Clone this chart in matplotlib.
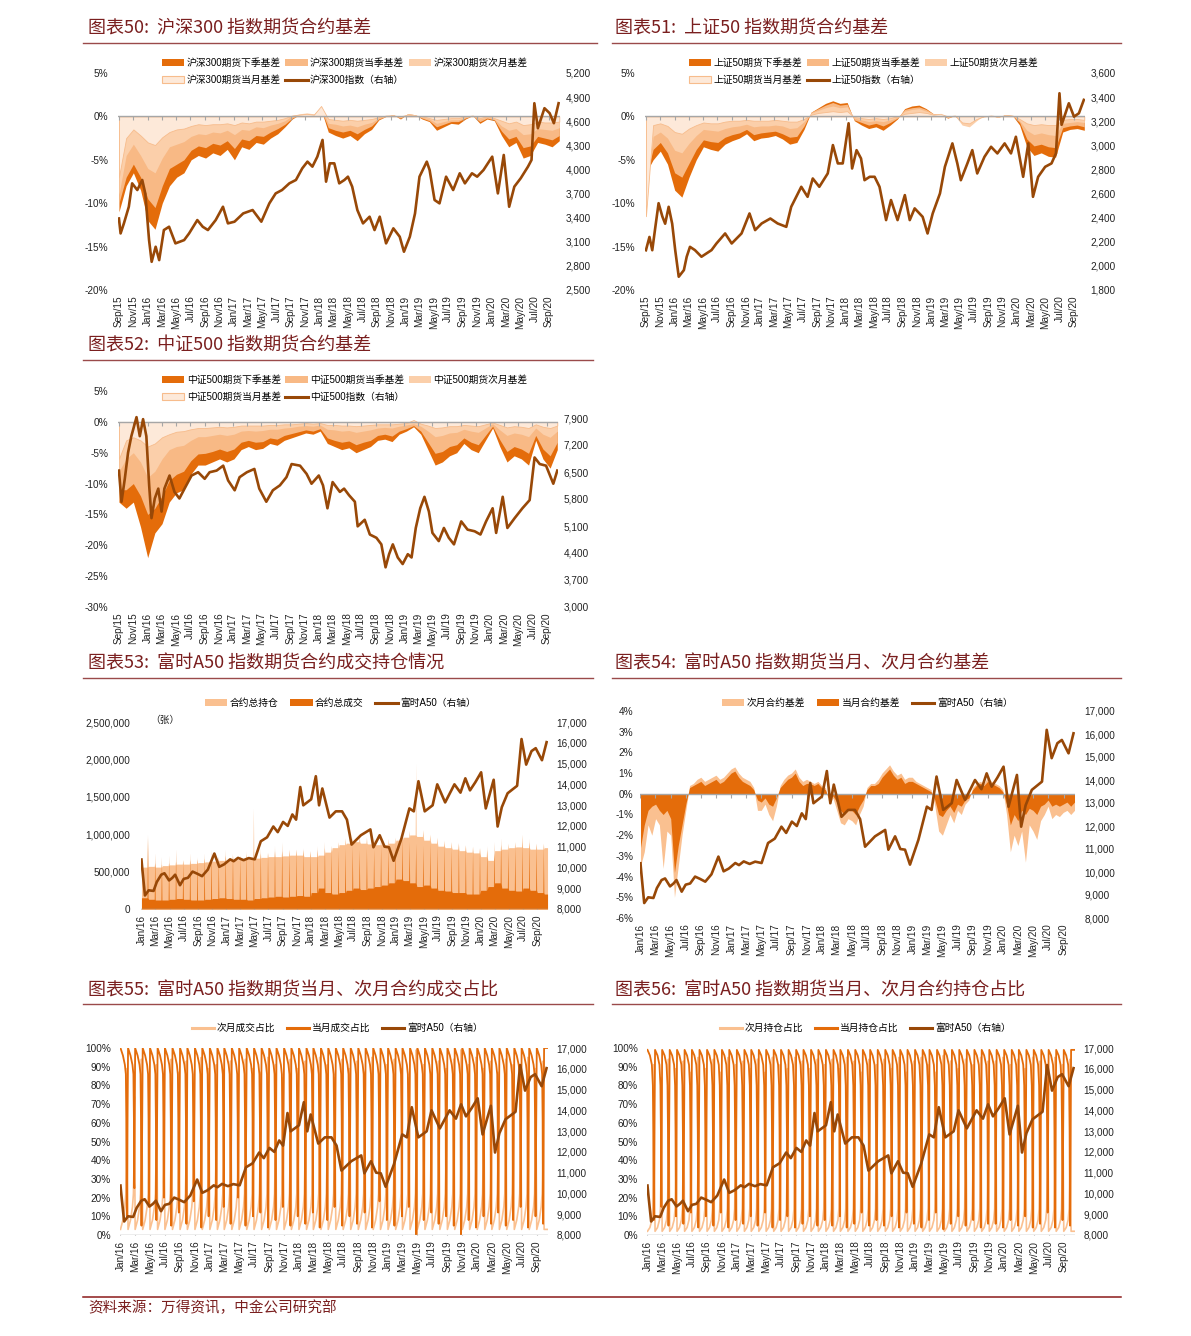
import numpy as np
import pandas as pd
import matplotlib
matplotlib.use('Agg')
import matplotlib.pyplot as plt
import matplotlib.dates as mdates
from matplotlib.patches import Patch
from matplotlib.lines import Line2D

plt.rcParams['font.family'] = ['Liberation Sans', 'Noto Sans CJK SC', 'DejaVu Sans']

# ---------------- DATA ----------------
hs300_dates = ['2015-09-01','2015-09-08','2015-09-22','2015-10-13','2015-10-27','2015-11-18','2015-12-09','2015-12-22',
 '2016-01-07','2016-01-18','2016-02-04','2016-02-19','2016-03-10','2016-04-01','2016-04-28','2016-06-04','2016-06-25',
 '2016-07-30','2016-08-22','2016-09-13','2016-10-16','2016-11-16','2016-12-07','2017-01-04','2017-02-10','2017-03-22',
 '2017-04-28','2017-06-01','2017-06-28','2017-07-25','2017-08-25','2017-09-22','2017-10-19','2017-11-10','2017-12-01',
 '2017-12-22','2018-01-13','2018-01-28','2018-02-13','2018-03-04','2018-03-25','2018-04-16','2018-05-01','2018-05-19',
 '2018-06-10','2018-07-04','2018-08-01','2018-08-22','2018-09-13','2018-10-10','2018-11-10','2018-12-07','2018-12-25',
 '2019-01-19','2019-02-10','2019-03-01','2019-04-01','2019-04-13','2019-05-04','2019-05-25','2019-06-22','2019-07-22',
 '2019-08-19','2019-09-10','2019-10-10','2019-11-01','2019-11-28','2020-01-04','2020-01-28','2020-02-22','2020-03-16',
 '2020-04-07','2020-05-04','2020-06-04','2020-06-19','2020-07-01','2020-07-16','2020-08-13','2020-09-04','2020-09-22',
 '2020-10-12']
hs300_vals = [3390,3204,3328,3536,3827,3744,3869,3700,3121,2851,3038,2872,3246,3287,3080,3121,3204,3370,3287,3246,3370,
 3536,3329,3350,3453,3495,3350,3578,3702,3744,3827,3869,4014,4097,4035,4159,4367,3848,4076,4076,3827,3869,3910,3786,
 3495,3329,3412,3246,3412,3080,3267,3163,2976,3163,3453,3910,4097,3993,3620,3578,3910,3744,3952,3827,3952,3910,3993,
 4159,3702,4180,3536,3786,3890,4035,4118,4824,4513,4762,4700,4575,4824]

sz50_dates = ['2015-09-01','2015-09-16','2015-09-28','2015-10-11','2015-10-25','2015-11-10','2015-11-22','2015-12-07',
 '2015-12-22','2016-01-04','2016-01-19','2016-02-10','2016-02-22','2016-03-07','2016-03-28','2016-04-25','2016-06-07',
 '2016-06-28','2016-08-04','2016-09-01','2016-10-13','2016-11-16','2016-12-10','2017-01-07','2017-02-13','2017-03-16',
 '2017-04-22','2017-05-13','2017-06-25','2017-07-22','2017-08-13','2017-09-10','2017-10-16','2017-11-07','2017-11-28',
 '2017-12-19','2018-01-13','2018-01-28','2018-02-16','2018-03-07','2018-03-22','2018-04-13','2018-05-04','2018-05-25',
 '2018-06-22','2018-07-13','2018-08-10','2018-09-10','2018-10-01','2018-10-22','2018-11-25','2018-12-16','2019-01-07',
 '2019-02-07','2019-02-28','2019-04-01','2019-04-22','2019-05-07','2019-06-04','2019-06-25','2019-07-16','2019-08-16',
 '2019-09-13','2019-10-10','2019-11-10','2019-12-07','2019-12-28','2020-01-28','2020-02-19','2020-03-10','2020-04-01',
 '2020-05-01','2020-05-28','2020-06-16','2020-07-01','2020-07-10','2020-08-10','2020-09-01','2020-09-22','2020-10-13']
sz50_vals = [2130,2240,2130,2320,2520,2410,2350,2490,2350,2130,1910,1965,2076,2158,2131,2076,2131,2186,2269,2186,2269,
 2435,2297,2352,2393,2352,2324,2490,2656,2573,2725,2656,2767,3002,2850,2850,3183,2808,2960,2891,2711,2739,2739,2656,
 2380,2546,2380,2587,2380,2477,2407,2269,2435,2601,2822,3016,2850,2711,2850,2960,2767,2905,2988,2933,3016,2933,3071,
 2739,3016,2573,2739,2822,2850,2933,3432,3170,3349,3238,3266,3377]

zz500_dates = ['2015-09-01','2015-09-12','2015-09-26','2015-10-10','2015-10-24','2015-11-15','2015-11-29','2015-12-13',
 '2015-12-27','2016-01-08','2016-01-18','2016-02-01','2016-02-16','2016-03-01','2016-03-13','2016-04-04','2016-04-25',
 '2016-05-16','2016-06-07','2016-07-07','2016-08-04','2016-09-01','2016-09-22','2016-10-22','2016-11-19','2016-12-10',
 '2017-01-07','2017-01-28','2017-02-28','2017-04-01','2017-04-22','2017-05-22','2017-06-19','2017-07-19','2017-08-16',
 '2017-09-07','2017-10-13','2017-11-10','2017-12-01','2018-01-01','2018-01-19','2018-02-07','2018-03-01','2018-04-01',
 '2018-04-19','2018-05-10','2018-06-04','2018-06-16','2018-07-16','2018-08-07','2018-09-04','2018-09-25','2018-10-13',
 '2018-10-28','2018-11-13','2018-12-04','2018-12-25','2019-01-16','2019-02-01','2019-02-19','2019-03-10','2019-03-28',
 '2019-04-16','2019-05-01','2019-05-28','2019-06-19','2019-07-10','2019-08-01','2019-09-01','2019-09-28','2019-10-28',
 '2019-11-22','2019-12-16','2020-01-13','2020-01-28','2020-02-25','2020-03-16','2020-04-16','2020-05-19','2020-06-19',
 '2020-07-10','2020-08-01','2020-08-28','2020-09-28','2020-10-15']
zz500_vals = [6537,5729,6323,7004,7429,7922,7429,7870,7429,6154,5304,5814,6069,5474,6069,6409,5984,5814,6069,6409,6494,
 6324,6494,6537,6664,6281,6026,6366,6494,6579,6069,5729,6026,6154,6366,6706,6664,6451,6196,6409,6154,5559,6239,5984,
 6069,5899,5729,5091,5261,4879,4794,4624,4029,4369,4624,4284,4114,4369,4284,5049,5559,5857,5474,4921,4709,5049,4794,
 4624,5219,5006,4964,4879,5219,5559,4921,5857,5049,5304,5559,5772,6877,6706,6664,6196,6537]

a50_dates = ['2016-01-01','2016-01-04','2016-01-16','2016-02-01','2016-02-22','2016-03-07','2016-03-26','2016-04-09',
 '2016-04-29','2016-05-13','2016-05-25','2016-06-15','2016-07-01','2016-07-19','2016-08-08','2016-08-28','2016-09-18',
 '2016-10-13','2016-11-10','2016-12-01','2016-12-22','2017-01-17','2017-02-01','2017-02-20','2017-03-16','2017-04-07',
 '2017-05-03','2017-05-29','2017-06-25','2017-07-22','2017-08-10','2017-09-02','2017-09-22','2017-10-12','2017-10-28',
 '2017-11-15','2017-11-28','2018-01-01','2018-01-21','2018-02-04','2018-02-18','2018-03-21','2018-04-17','2018-05-14',
 '2018-06-04','2018-06-24','2018-08-03','2018-09-13','2018-09-26','2018-10-23','2018-11-13','2018-12-02','2018-12-22',
 '2019-01-25','2019-02-28','2019-03-19','2019-04-08','2019-05-05','2019-06-08','2019-06-28','2019-08-01','2019-09-10',
 '2019-10-06','2019-10-27','2019-11-16','2019-12-09','2020-01-03','2020-01-23','2020-02-26','2020-03-14','2020-04-01',
 '2020-04-26','2020-06-06','2020-06-25','2020-07-15','2020-08-07','2020-08-25','2020-09-21','2020-10-11']
a50_vals = [10380,10000,8650,8900,8870,9300,9650,9720,9375,9500,9650,9145,9450,9500,9800,9700,9580,9900,10670,10030,
 10150,10390,10300,10460,10350,10450,10390,11260,11450,11970,11700,12190,12000,12550,12300,13870,12990,13280,14390,
 12990,13800,12400,12700,12700,12300,11100,11550,11830,10970,11550,11000,10970,10320,11400,12840,12700,14150,12700,
 12990,14000,13130,14000,13600,14290,13710,14100,14580,12840,14220,11970,12900,13570,13930,16180,14950,15600,15740,
 15160,16030]

# monthly basis (%), Sep 2015 - Oct 2020
hs_q2 = [-11,-8,-6.5,-8.5,-12,-13,-10,-8,-7,-6.5,-5,-4.5,-4.8,-4.2,-4.5,-3.8,-5,-3.5,-3.8,-3,-3.2,-2.5,-2,-1.2,-0.3,0.2,
 0.3,0.2,0.8,-1.8,-2.2,-2.5,-2.2,-2.8,-2,-1.5,-0.4,0,0.2,-0.3,0.3,0.2,-0.3,-0.6,-1.6,-1.2,-0.8,-0.9,-0.3,0.1,-0.8,-0.3,
 -0.5,-2.2,-3.5,-3,-4.8,-4.5,-3,-3.2,-3.5,-2.8]
hs_q1 = [-10,-7,-5.5,-7,-9.5,-10.5,-8,-6,-5.5,-5,-3.9,-3.4,-3.6,-3.1,-3.3,-2.8,-3.7,-2.6,-2.8,-2.2,-2.3,-1.8,-1.4,-0.9,
 -0.2,0.2,0.3,0.2,0.8,-1.3,-1.6,-1.8,-1.6,-2.0,-1.5,-1.1,-0.3,0,0.2,-0.2,0.3,0.2,-0.2,-0.5,-1.2,-0.9,-0.6,-0.6,-0.2,0.1,
 -0.6,-0.2,-0.4,-1.7,-2.6,-2.3,-3.6,-3.4,-2.3,-2.5,-2.7,-2.2]
hs_m2 = [-9,-4.5,-3.2,-4.5,-6,-6.5,-4.8,-3.5,-3.2,-2.9,-2.3,-2.0,-2.1,-1.8,-1.9,-1.6,-2.1,-1.5,-1.6,-1.2,-1.3,-1.0,
 -0.8,-0.5,0.1,0.3,0.4,0.3,1.0,-0.8,-0.9,-1.1,-1.0,-1.2,-0.9,-0.7,-0.2,0.1,0.2,-0.1,0.3,0.2,-0.1,-0.3,-0.8,-0.6,-0.4,
 -0.4,-0.1,0.1,-0.3,-0.1,-0.3,-1.1,-1.6,-1.4,-2.1,-2.0,-1.4,-1.5,-1.6,-1.3]
hs_m1 = [-7,-2.5,-1.5,-2.2,-3,-3.3,-2.4,-1.8,-1.5,-1.4,-1.1,-0.9,-1.0,-0.9,-0.9,-0.8,-1.0,-0.7,-0.8,-0.6,-0.6,-0.5,
 -0.4,-0.2,0.1,0.2,0.3,0.2,1.2,-0.3,-0.4,-0.5,-0.4,-0.5,-0.4,-0.3,-0.1,0.1,0.1,0,0.2,0.1,0,-0.2,-0.4,-0.3,-0.2,-0.2,0,
 0.1,-0.2,0,-0.2,-0.5,-0.8,-0.6,-1.0,-0.9,-0.6,-0.7,-0.7,-0.6]

sz_q2 = [-6.5,-5.0,-4.0,-5.5,-8.5,-9.3,-7.0,-5.0,-3.5,-3.8,-4.0,-3.2,-2.8,-2.5,-2.0,-2.8,-2.5,-2.4,-2.2,-2.6,-3.2,-3.0,
 -1.5,0.5,1.0,1.5,1.8,1.5,1.6,-0.5,-1.0,-1.4,-1.2,-1.6,-1.0,-0.3,0.9,1.2,1.3,0.9,0.3,0.2,-0.2,0.1,-0.5,-0.6,-0.4,0.1,
 0.1,-0.1,0.2,0.1,-1.0,-3.5,-4.5,-4.2,-4.6,-4.7,-1.8,-1.5,-1.4,-1.6]
sz_q1 = [-7,-3.8,-3.0,-4.2,-6.5,-7,-5.4,-3.8,-2.7,-2.9,-3.0,-2.4,-2.1,-1.9,-1.5,-2.1,-1.9,-1.8,-1.7,-2.0,-2.4,-2.3,
 -1.1,0.5,0.9,1.3,1.6,1.3,1.4,-0.4,-0.7,-1.0,-0.8,-1.1,-0.7,-0.2,0.8,1.0,1.1,0.8,0.3,0.2,-0.1,0.1,-0.5,-0.6,-0.3,0.1,
 0.1,-0.1,0.2,0.1,-0.7,-2.6,-3.4,-3.2,-3.5,-3.6,-1.3,-1.1,-1.0,-1.2]
sz_m2 = [-9,-2.3,-1.8,-2.5,-3.9,-4.2,-3.1,-2.2,-1.5,-1.6,-1.7,-1.4,-1.2,-1.1,-0.9,-1.2,-1.1,-1.1,-1.0,-1.1,-1.4,-1.3,
 -0.6,0.4,0.7,1.0,1.2,1.0,1.1,-0.2,-0.4,-0.6,-0.5,-0.6,-0.4,-0.1,0.6,0.8,0.9,0.6,0.3,0.2,-0.1,0.1,-1.0,-1.2,-0.5,0.1,
 0.1,-0.1,0.2,0.1,-0.5,-1.6,-2.1,-1.9,-2.1,-2.2,-0.8,-0.7,-0.6,-0.7]
sz_m1 = [-11.5,-1.0,-0.8,-1.1,-1.8,-2.0,-1.4,-1.0,-0.7,-0.8,-0.8,-0.6,-0.5,-0.5,-0.4,-0.5,-0.5,-0.5,-0.4,-0.5,-0.6,
 -0.6,-0.3,0.2,0.4,0.5,0.6,0.5,0.6,-0.1,-0.2,-0.3,-0.2,-0.3,-0.2,0,0.3,0.4,0.5,0.4,0.2,0.3,0,0.1,-0.7,-0.8,-0.3,0,0.1,
 0,0.1,0.1,-0.3,-0.8,-1.0,-0.9,-1.0,-1.0,-0.4,-0.3,-0.3,-0.4]

zz_q2 = [-13,-14,-13,-17,-22,-18,-16.5,-13,-11.5,-11,-8.5,-7,-7,-6.5,-6,-6.5,-6,-4.5,-4,-4.5,-4.3,-3.5,-3.8,-3,-2.6,
 -2.2,-1.8,-2,-1.5,-3.5,-4,-4.5,-4.2,-5,-4.5,-4,-3,-2.8,-3.2,-2,-1.5,-0.8,-2,-4.5,-7,-6.5,-5.5,-5,-3.5,-4.5,-5,-3,-1,
 -4,-6.5,-5.5,-6,-7,-3,-6,-7.5,-4.5]
zz_q1 = [-11,-11,-10,-12,-15,-14,-12,-9.5,-8.5,-8,-6.3,-5.2,-5.1,-4.8,-4.4,-4.8,-4.4,-3.3,-3.0,-3.3,-3.2,-2.6,-2.8,-2.2,
 -1.9,-1.6,-1.3,-1.5,-1.1,-2.6,-3.0,-3.3,-3.1,-3.7,-3.3,-3.0,-2.2,-2.0,-2.3,-1.5,-1.1,-0.6,-1.5,-3.3,-5.1,-4.8,-4.0,
 -3.7,-2.6,-3.3,-3.7,-2.2,-0.7,-2.9,-4.8,-4.0,-4.4,-5.1,-2.2,-4.4,-5.5,-3.3]
zz_m2 = [-8,-6,-5,-6.5,-9,-8,-6,-4.5,-4,-3.8,-3,-2.4,-2.4,-2.2,-2,-2.2,-2,-1.5,-1.4,-1.5,-1.4,-1.2,-1.2,-1.0,-0.9,-0.7,
 -0.6,-0.7,-0.5,-1.2,-1.3,-1.5,-1.4,-1.7,-1.5,-1.3,-1.0,-0.9,-1.0,-0.7,-0.5,-0.3,-0.7,-1.5,-2.4,-2.2,-1.8,-1.7,-1.2,
 -1.5,-1.7,-1.0,-0.3,-1.3,-2.2,-1.8,-2.0,-2.4,-1.0,-2.0,-2.5,-1.5]
zz_m1 = [-6,-3,-2.5,-3,-4,-3.5,-2.5,-2,-1.6,-1.5,-1.2,-1,-1,-0.9,-0.8,-0.9,-0.8,-0.6,-0.6,-0.6,-0.6,-0.5,-0.5,-0.4,
 -0.4,-0.3,-0.2,-0.3,-0.2,-0.5,-0.5,-0.6,-0.6,-0.7,-0.6,-0.5,-0.4,-0.4,-0.4,-0.3,-0.2,0.3,-0.3,-0.6,-1.0,-0.9,-0.7,
 -0.7,-0.5,-0.6,-0.7,-0.4,-0.1,-0.5,-0.9,-0.7,-0.8,-1.0,-0.4,-0.8,-1.0,-0.6]

# A50 basis (%), semi-monthly Jan 2016 - Oct 2020
a50_cur = [-2.6,-1.5, -0.8,-0.6, -0.5,-0.8, -1.0,-0.8, -1.2,-3.8, -2.5,-1.5, -0.5,0.3, 0.4,0.5, 0.6,0.4, 0.5,0.6,
 0.7,0.5, 0.6,0.8,
 1.0,1.1, 0.8,0.6, 0.5,0.4, 0.2,-0.3, -0.4,-0.2, -0.5,-0.6, -0.2,0.3, 0.5,0.7, 0.8,1.0, 0.6,0.4, 0.5,0.5, 0.4,0.5,
 0.3,0.2, -0.3,-0.1, -0.4,-0.8, -1.0,-0.7, -0.8,-1.0, -0.6,-0.3, 0.2,0.4, 0.4,0.5, 0.8,1.0, 1.2,0.9, 0.7,0.8, 0.5,0.6,
 0.6,0.5, 0.4,0.3, 0.2,0.1, -0.3,-1.0, -1.1,-0.8, -0.6,-0.9, -0.5,-0.6, -0.3,-0.2, 0.2,0.4, 0.5,0.4, 0.6,0.5, 0.4,0.3,
 0.1,-0.5, -1.5,-1.0, -1.3,-0.8, -1.0,-0.7, -0.8,-1.0, -0.6,-0.5, -0.3,-0.6, -0.5,-0.6, -0.5,-0.4, -0.6,-0.4]
a50_next = [-3.5,-2.8, -1.5,-2.0, -1.2,-1.5, -3.6,-1.8, -2.0,-5.0, -3.5,-2.0, -0.8,0.4, 0.5,0.7, 0.8,0.6, 0.7,0.8,
 0.9,0.7, 0.8,1.0,
 1.2,1.3, 1.0,0.8, 0.7,0.6, 0.3,-0.8, -0.8,-0.5, -1.0,-1.3, -0.6,0.4, 0.7,0.9, 1.0,1.2, 0.8,0.6, 0.7,0.6, 0.5,0.6,
 0.4,0.3, -0.5,-0.2, -0.8,-1.4, -1.5,-1.2, -1.3,-1.5, -1.0,-0.6, 0.3,0.5, 0.5,0.7, 1.0,1.2, 1.4,1.1, 0.9,1.0, 0.7,0.8,
 0.8,0.6, 0.5,0.4, 0.3,0.2, -0.6,-1.8, -2.0,-1.5, -1.0,-1.4, -0.8,-1.0, -0.5,-0.3, 0.3,0.5, 0.6,0.5, 0.8,0.6, 0.5,0.4,
 0.2,-1.0, -2.8,-2.0, -2.5,-1.8, -3.3,-1.5, -1.8,-2.2, -1.3,-1.0, -0.6,-1.2, -1.0,-1.1, -0.9,-0.8, -1.0,-0.8]

# A50 futures open interest / volume (10k contracts), monthly
oi_base = [56,57,56,58,59,60,60,61,62,63,64,65, 65,66,66,67,68,69,70,70,71,72,72,70, 70,72,76,82,86,88,90,88,87,86,86,88,
 92,96,99,97,92,88,84,82,80,78,76,75, 70,65,78,80,82,83,82,80,80,82]
oi_spike = [95,62,60,62,64,66,66,67,68,70,70,72, 72,72,74,135,75,76,78,78,80,80,80,78, 80,82,85,90,95,96,98,96,95,
 94,94,96, 100,105,195,106,100,96,92,90,88,86,84,82, 80,75,86,88,90,100,90,88,88,90]
vol_base = [15,13,12,12,13,14,13,12,12,13,14,15, 14,13,13,12,14,15,16,17,16,17,18,17, 22,28,22,20,22,25,28,26,28,30,32,35,
 40,38,35,30,32,28,25,24,22,22,20,20, 25,30,35,28,25,24,28,25,22,20]
vol_spike = [100,75,70,72,80,65,75,70,75,80,70,80, 75,70,78,80,82,75,85,90,78,80,82,78, 85,90,80,78,82,85,80,82,80,85,82,
 88, 95,90,88,85,90,85,88,82,90,85,80,82, 85,90,95,80,85,90,95,88,85,80]

# roll-day shares (%), monthly
vol_cur_low = [10,25,5,15,8,20,5,12,6,18,4,10, 8,15,6,20,5,10,12,4,8,15,5,10, 6,12,4,8,15,5,10,6,12,4,18,8,
 5,10,15,0,8,12,6,10,5,0,8,4, 10,6,12,5,8,15,4,10,6,8]
oi_cur_low = [8,15,5,10,6,12,4,10,5,12,4,8, 6,10,5,12,4,8,10,4,6,10,5,8, 5,10,4,6,12,5,8,5,10,4,12,6,
 4,8,12,3,6,10,5,8,4,6,6,4, 8,5,10,4,6,12,4,8,5,6]
vol_profile_day = [0, 10, 18, 22, 24, 25, 26]
vol_cur_profile = [100, 96, 91, 86, 62, 28]
vol_next_profile = [3, 8, 15, 22, 35, 68]
oi_profile_day = [0, 10, 18, 22, 24, 25, 26]
oi_cur_profile = [99, 96, 91, 80, 55, 30]
oi_next_profile = [2, 4, 8, 14, 30, 60]

# ---------------- STYLE ----------------
W, H = 1191, 1336
C_DARK = '#E46C0A'
C_MED = '#F8B985'
C_LIGHT = '#FBCFAA'
C_PALE = '#FDE9D9'
C_PALE_EDGE = '#F7BC8C'
C_IDX = '#984807'
C_OI = '#FAC090'
TITLE_C = '#7A1F1F'
LINE_C = '#9A4A4A'
GRAY = '#A6A6A6'
TICK_FS = 7.2
LEG_FS = 7

fig = plt.figure(figsize=(W / 100, H / 100), dpi=100)


def add_ax(x0, y0, x1, y1):
    return fig.add_axes([x0 / W, 1 - y1 / H, (x1 - x0) / W, (y1 - y0) / H])


def fy(y):
    return 1 - y / H


def title(x, y, x0, x1, yl, text):
    fig.text(x / W, fy(y), text, ha='left', va='center', fontsize=13, color=TITLE_C,
             family=['Noto Sans CJK SC'])
    fig.add_artist(Line2D([x0 / W, x1 / W], [fy(yl), fy(yl)], color=LINE_C, lw=1.0))


def clean(ax, ax2, lpad, rpad):
    for a in (ax, ax2):
        for s in a.spines.values():
            s.set_visible(False)
    ax.tick_params(axis='y', length=0, pad=lpad, labelsize=TICK_FS, colors='#222222')
    ax2.tick_params(axis='y', length=0, pad=rpad, labelsize=TICK_FS, colors='#222222')
    ax.tick_params(axis='x', length=0, pad=4, labelsize=TICK_FS, labelrotation=90, colors='#222222')
    ax2.tick_params(axis='x', length=0)
    ax.xaxis.set_major_locator(mdates.MonthLocator(bymonth=[1, 3, 5, 7, 9, 11]))
    ax.xaxis.set_major_formatter(mdates.DateFormatter('%b/%y'))
    for lab in ax.get_xticklabels():
        lab.set_verticalalignment('top')


def base_line(ax, y0, xlim):
    ax.axhline(y0, color=GRAY, lw=1.0, zorder=5)
    ticks = pd.date_range(xlim[0], xlim[1], freq='MS')
    ticks = [t for t in ticks if t.month % 2 == 1]
    ax.plot(ticks, [y0] * len(ticks), ls='none', marker=3, ms=3, mew=0.8, color=GRAY, zorder=5)


def pct_fmt(v):
    return f'{int(v)}%'


def thou(v):
    return f'{int(v):,}'


LEG_KW = dict(frameon=False, fontsize=LEG_FS, handlelength=2.3, handleheight=0.7, handletextpad=0.25,
              borderaxespad=0, borderpad=0)

# ---------------- charts 50 / 51 / 52 ----------------
bdates = pd.date_range('2015-09-01', '2020-10-15', periods=62)
xl1 = (pd.Timestamp('2015-08-28'), pd.Timestamp('2020-10-18'))


def basis_chart(rect, q2, q1, m2, m1, idx_d, idx_v, ylim, ticks, rlim, rticks, name, legy):
    ax = add_ax(*rect)
    ax2 = ax.twinx()
    ax.fill_between(bdates, 0, q2, color=C_DARK, lw=0)
    ax.fill_between(bdates, 0, q1, color=C_MED, lw=0)
    ax.fill_between(bdates, 0, m2, color=C_LIGHT, lw=0)
    ax.fill_between(bdates, 0, m1, facecolor=C_PALE, edgecolor=C_PALE_EDGE, lw=0.6)
    base_line(ax, 0, xl1)
    ax2.plot(pd.to_datetime(idx_d), idx_v, color=C_IDX, lw=1.9)
    ax.set_xlim(*xl1)
    ax.set_ylim(*ylim)
    ax.set_yticks(ticks)
    ax.set_yticklabels([pct_fmt(t) for t in ticks])
    ax2.set_ylim(*rlim)
    ax2.set_yticks(rticks)
    ax2.set_yticklabels([thou(t) for t in rticks])
    clean(ax, ax2, 7, 4)
    hs = [Patch(facecolor=C_DARK, lw=0), Patch(facecolor=C_MED, lw=0), Patch(facecolor=C_LIGHT, lw=0),
          Patch(facecolor=C_PALE, edgecolor=C_PALE_EDGE, lw=0.8), Line2D([], [], color=C_IDX, lw=2.2)]
    ls = [name + '期货下季基差', name + '期货当季基差', name + '期货次月基差', name + '期货当月基差', name + '指数（右轴）']
    order = [0, 3, 1, 4, 2]
    fig.legend([hs[i] for i in order], [ls[i] for i in order], loc='upper left',
               bbox_to_anchor=((rect[0] + 44) / W, fy(legy)), ncol=3, columnspacing=0.45, labelspacing=0.72,
               **LEG_KW)
    return ax, ax2


title(88, 28, 83, 597, 43, '图表50:  沪深300 指数期货合约基差')
basis_chart((118, 73, 560, 290), hs_q2, hs_q1, hs_m2, hs_m1, hs300_dates, hs300_vals, (-20, 5),
            [-20, -15, -10, -5, 0, 5], (2500, 5200), list(range(2500, 5201, 300)), '沪深300', 58)

title(615, 28, 612, 1121, 43, '图表51:  上证50 指数期货合约基差')
basis_chart((645, 73, 1085, 290), sz_q2, sz_q1, sz_m2, sz_m1, sz50_dates, sz50_vals, (-20, 5),
            [-20, -15, -10, -5, 0, 5], (1800, 3600), list(range(1800, 3601, 200)), '上证50', 58)

title(88, 345, 83, 593, 360, '图表52:  中证500 指数期货合约基差')
basis_chart((118, 391, 558, 607), zz_q2, zz_q1, zz_m2, zz_m1, zz500_dates, zz500_vals, (-30, 5),
            [-30, -25, -20, -15, -10, -5, 0, 5], (3000, 8600), list(range(3000, 7901, 700)), '中证500', 375)

# ---------------- chart 53 ----------------
months = pd.date_range('2016-01-01', periods=58, freq='MS')
xl2 = (pd.Timestamp('2015-12-30'), pd.Timestamp('2020-10-17'))

sx, s_oi, s_vol = [], [], []
for k, m0 in enumerate(months):
    if k < len(months) - 1:
        for d, o, v in ((0, oi_base[k], vol_base[k]), (24, oi_base[k], vol_base[k]),
                        (26, oi_spike[k], vol_spike[k]), (28, oi_base[k], vol_base[k])):
            sx.append(m0 + pd.Timedelta(days=d)); s_oi.append(o * 1e4); s_vol.append(v * 1e4)
    else:
        for d in (0, 14):
            sx.append(m0 + pd.Timedelta(days=d)); s_oi.append(oi_base[k] * 1e4); s_vol.append(vol_base[k] * 1e4)

title(88, 663, 83, 593, 678, '图表53:  富时A50 指数期货合约成交持仓情况')
ax = add_ax(141, 722, 548, 909)
ax2 = ax.twinx()
ax.fill_between(sx, 0, s_oi, color=C_OI, lw=0)
ax.fill_between(sx, 0, s_vol, color=C_DARK, lw=0)
base_line(ax, 0, xl2)
ax2.plot(pd.to_datetime(a50_dates), a50_vals, color=C_IDX, lw=1.9)
ax.set_xlim(*xl2)
ax.set_ylim(0, 2500000)
yt = [0, 500000, 1000000, 1500000, 2000000, 2500000]
ax.set_yticks(yt)
ax.set_yticklabels([thou(t) for t in yt])
ax2.set_ylim(8000, 17000)
rt = list(range(8000, 17001, 1000))
ax2.set_yticks(rt)
ax2.set_yticklabels([thou(t) for t in rt])
clean(ax, ax2, 8, 6)
fig.text(150 / W, fy(720), '（张）', fontsize=LEG_FS, ha='left', va='center', color='#222222',
         family=['Noto Sans CJK SC'])
fig.legend([Patch(facecolor=C_OI, lw=0), Patch(facecolor=C_DARK, lw=0), Line2D([], [], color=C_IDX, lw=2.2)],
           ['合约总持仓', '合约总成交', '富时A50（右轴）'], loc='upper left', bbox_to_anchor=(205 / W, fy(698)),
           ncol=3, columnspacing=1.2, **LEG_KW)

# ---------------- chart 54 ----------------
a50_bdates = pd.date_range('2016-01-01', '2020-10-15', periods=116)
title(615, 663, 612, 1121, 678, '图表54:  富时A50 指数期货当月、次月合约基差')
ax = add_ax(640, 711, 1075, 918)
ax2 = ax.twinx()
ax.fill_between(a50_bdates, 0, a50_next, color=C_OI, lw=0)
ax.fill_between(a50_bdates, 0, a50_cur, color=C_DARK, lw=0)
base_line(ax, 0, xl2)
ax2.plot(pd.to_datetime(a50_dates), a50_vals, color=C_IDX, lw=1.9)
ax.set_xlim(*xl2)
ax.set_ylim(-6, 4)
yt = list(range(-6, 5))
ax.set_yticks(yt)
ax.set_yticklabels([pct_fmt(t) for t in yt])
ax2.set_ylim(8000, 17000)
ax2.set_yticks(rt)
ax2.set_yticklabels([thou(t) for t in rt])
clean(ax, ax2, 5, 7)
fig.legend([Patch(facecolor=C_OI, lw=0), Patch(facecolor=C_DARK, lw=0), Line2D([], [], color=C_IDX, lw=2.2)],
           ['次月合约基差', '当月合约基差', '富时A50（右轴）'], loc='upper left', bbox_to_anchor=(722 / W, fy(698)),
           ncol=3, columnspacing=1.2, **LEG_KW)


# ---------------- charts 55 / 56 ----------------
def share_series(days, cur_prof, next_prof, lows):
    xs, cur, nxt = [], [], []
    for k, m0 in enumerate(months):
        if k < len(months) - 1:
            for j, d in enumerate(days):
                xs.append(m0 + pd.Timedelta(days=d))
                if j < len(cur_prof):
                    cur.append(cur_prof[j]); nxt.append(next_prof[j])
                else:
                    cur.append(lows[k]); nxt.append(99 - lows[k])
        else:
            for d in (0, 14):
                xs.append(m0 + pd.Timedelta(days=d)); cur.append(cur_prof[0]); nxt.append(next_prof[0])
    return xs, cur, nxt


def share_chart(rect, xs, cur, nxt, lab1, lab2, legx):
    ax = add_ax(*rect)
    ax2 = ax.twinx()
    ax.plot(xs, nxt, color=C_OI, lw=1.2)
    ax.plot(xs, cur, color=C_DARK, lw=1.3)
    base_line(ax, 0, xl2)
    ax2.plot(pd.to_datetime(a50_dates), a50_vals, color=C_IDX, lw=1.9)
    ax.set_xlim(*xl2)
    ax.set_ylim(0, 100)
    yt = list(range(0, 101, 10))
    ax.set_yticks(yt)
    ax.set_yticklabels([pct_fmt(t) for t in yt])
    ax2.set_ylim(8000, 17000)
    ax2.set_yticks(rt)
    ax2.set_yticklabels([thou(t) for t in rt])
    clean(ax, ax2, 6.5, 6)
    fig.legend([Line2D([], [], color=C_OI, lw=2.2), Line2D([], [], color=C_DARK, lw=2.2),
                Line2D([], [], color=C_IDX, lw=2.2)],
               [lab1, lab2, '富时A50（右轴）'], loc='upper left', bbox_to_anchor=(legx / W, fy(1023)),
               ncol=3, columnspacing=1.2, **LEG_KW)


xs, cur, nxt = share_series(vol_profile_day, vol_cur_profile, vol_next_profile, vol_cur_low)
title(88, 990, 83, 593, 1004, '图表55:  富时A50 指数期货当月、次月合约成交占比')
share_chart((120, 1048, 548, 1235), xs, cur, nxt, '次月成交占比', '当月成交占比', 192)

xs, cur, nxt = share_series(oi_profile_day, oi_cur_profile, oi_next_profile, oi_cur_low)
title(615, 990, 612, 1121, 1004, '图表56:  富时A50 指数期货当月、次月合约持仓占比')
share_chart((647, 1048, 1075, 1235), xs, cur, nxt, '次月持仓占比', '当月持仓占比', 720)

# ---------------- footer ----------------
fig.add_artist(Line2D([83 / W, 1121 / W], [fy(1297), fy(1297)], color='#8B1A1A', lw=1.1))
fig.text(88 / W, fy(1308), '资料来源：万得资讯，中金公司研究部', fontsize=10.5, color=TITLE_C, ha='left', va='center',
         family=['Noto Sans CJK SC'])

fig.savefig('out.png', dpi=100)
